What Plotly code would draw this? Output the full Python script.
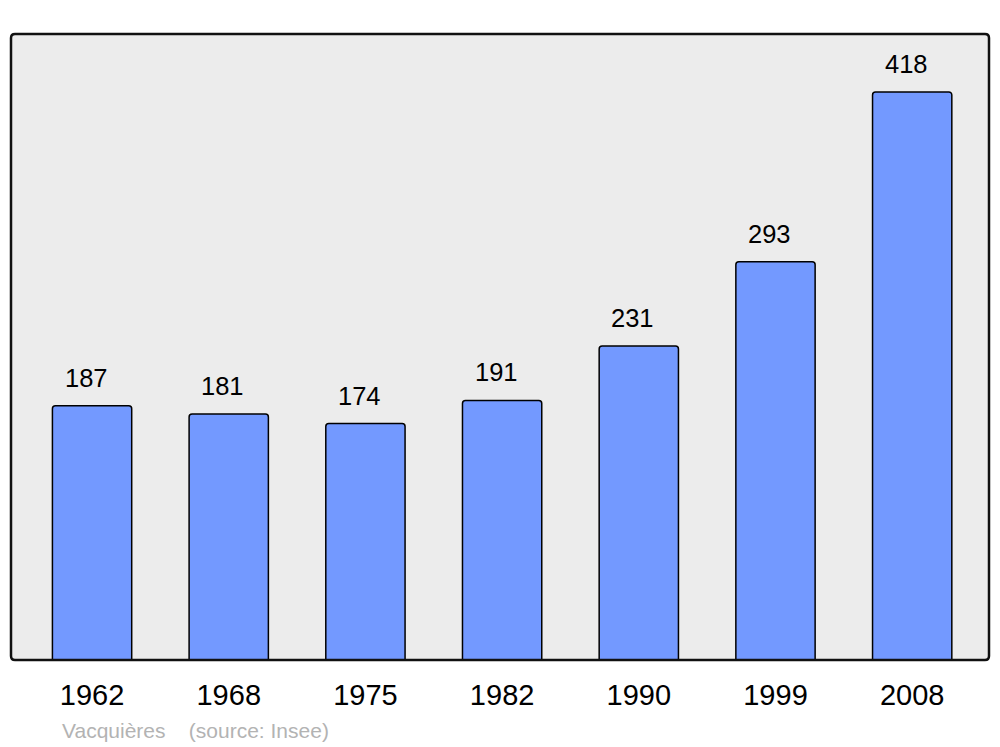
import plotly.graph_objects as go

years = ["1962", "1968", "1975", "1982", "1990", "1999", "2008"]
population = [187, 181, 174, 191, 231, 293, 418]
caption_place = "Vacquières"
caption_source = "(source: Insee)"

OFF = 8  # default page body margin
W, H = 1000 - OFF, 747 - OFF
L, R, T, B = 11 - OFF, 11, 34 - OFF, 87
PW, PH = W - L - R, H - T - B

fig = go.Figure()
fig.add_trace(go.Bar(
    x=list(range(len(years))), y=population,
    width=0.58,
    marker=dict(color="#7399ff", line=dict(color="#000000", width=1.5), cornerradius=3),
    hoverinfo="skip",
))

for i, v in enumerate(population):
    fig.add_annotation(x=i, y=v, text=str(v), showarrow=False, yanchor="middle",
                       yshift=28, xshift=-6, font=dict(size=25.5, color="#000000"))

fig.add_annotation(xref="paper", yref="paper", x=(60 - 11) / PW, y=(660 - 730) / PH,
                   xanchor="left", yanchor="middle", showarrow=False,
                   text=caption_place + "&nbsp;&nbsp;&nbsp;&nbsp;" + caption_source,
                   font=dict(size=21, color="#b3b3b3"))

rx, ry = 4 / PW, 4 / PH
path = (f"M {rx},0 L {1-rx},0 Q 1,0 1,{ry} L 1,{1-ry} Q 1,1 {1-rx},1 "
        f"L {rx},1 Q 0,1 0,{1-ry} L 0,{ry} Q 0,0 {rx},0 Z")
fig.add_shape(type="path", xref="paper", yref="paper", path=path,
              line=dict(color="#111111", width=2.5), layer="above")

fig.update_layout(
    width=W, height=H,
    margin=dict(l=L, r=R, t=T, b=B, pad=0),
    paper_bgcolor="#ffffff", plot_bgcolor="#ececec",
    font=dict(family="Liberation Sans, Arial, sans-serif", color="#000000"),
    showlegend=False,
    xaxis=dict(range=[-0.593, 6.562], tickmode="array", tickvals=list(range(len(years))),
               ticktext=years, showgrid=False, zeroline=False, ticks="outside",
               ticklen=9, tickcolor="rgba(0,0,0,0)", tickfont=dict(size=29)),
    yaxis=dict(range=[0, 460.6], showgrid=False, zeroline=False, showticklabels=False),
)

fig.write_html("out.html")
